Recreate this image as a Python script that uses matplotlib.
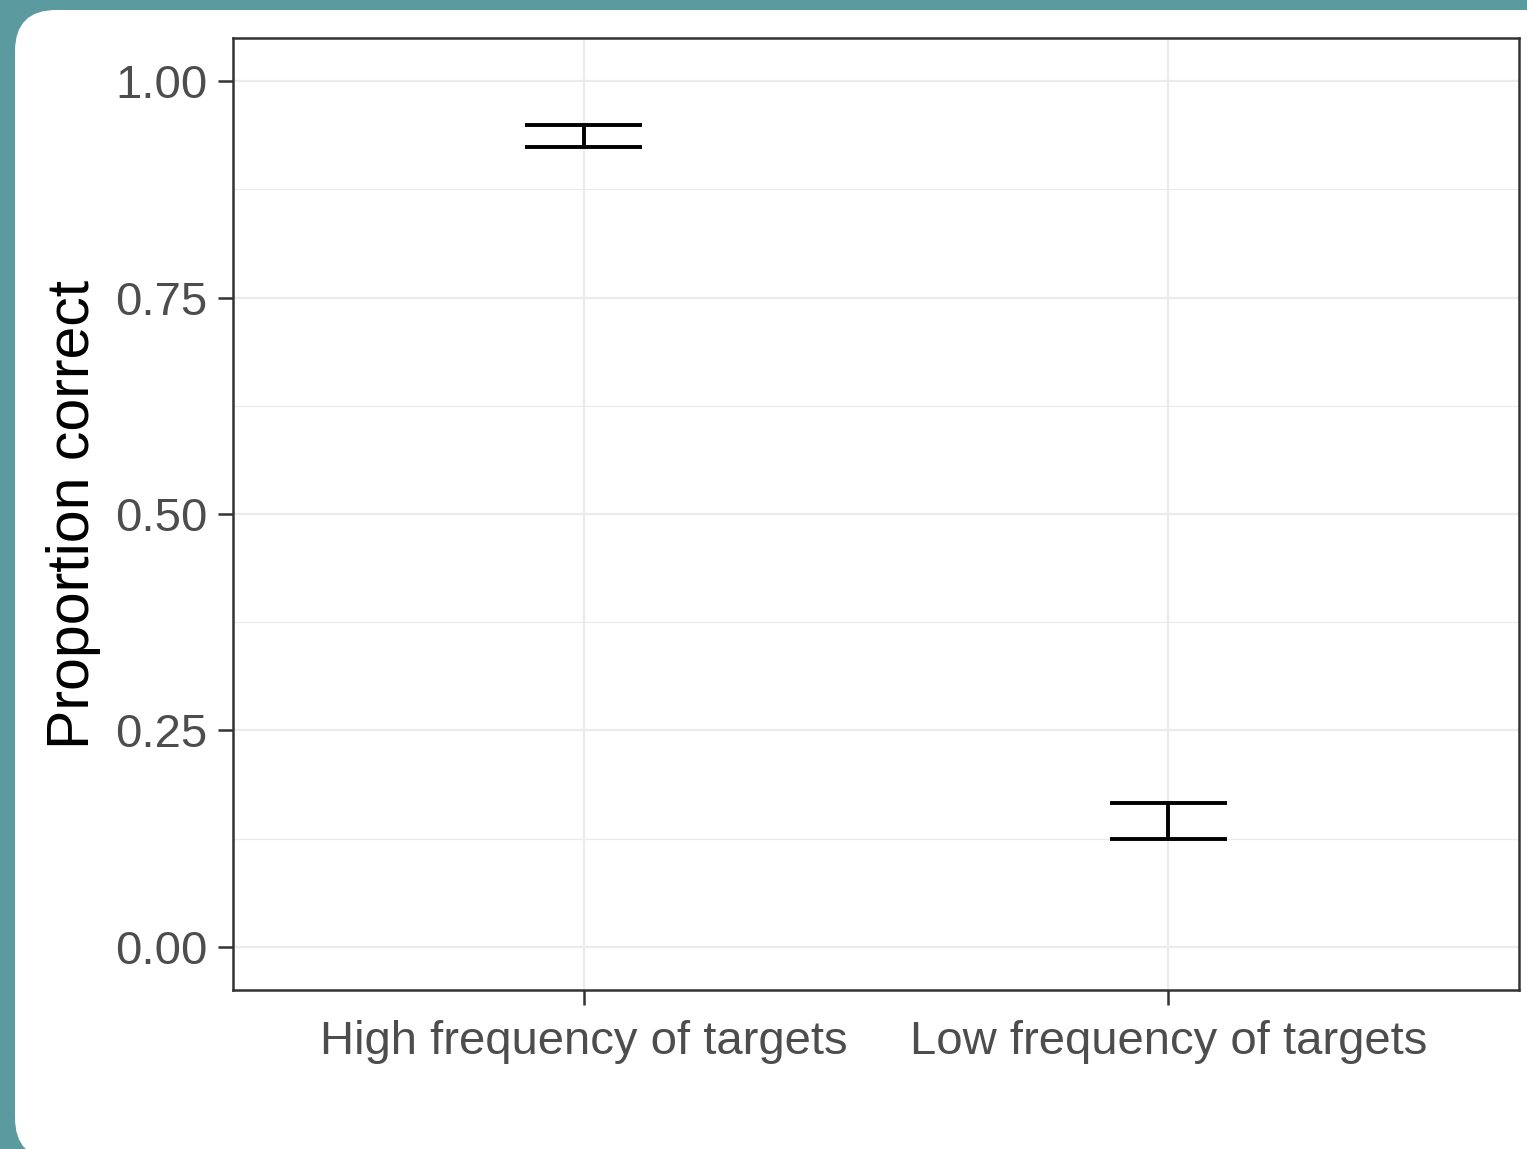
import matplotlib.pyplot as plt
from matplotlib.patches import FancyBboxPatch
import numpy as np

# data
conditions = ['High frequency of targets', 'Low frequency of targets']
ci_low = [0.924, 0.124]
ci_high = [0.950, 0.166]
y_ticks = [0.0, 0.25, 0.5, 0.75, 1.0]
y_tick_labels = ['0.00', '0.25', '0.50', '0.75', '1.00']

plt.rcParams['font.family'] = ['Liberation Sans', 'DejaVu Sans']

W, H = 1527, 1149
fig = plt.figure(figsize=(W / 100, H / 100), dpi=100)
fig.patch.set_facecolor('#5b9ba0')

# white rounded card behind the plot
card = FancyBboxPatch((15 / W, -10 / H), 1600 / W, (H - 10 + 10) / H,
                      boxstyle='round,pad=0,rounding_size=0.027',
                      transform=fig.transFigure, facecolor='white',
                      edgecolor='none', mutation_aspect=W / H, zorder=-5)
fig.patches.append(card)

left, right, top, bottom = 233, 1519, 38, 990
ax = fig.add_axes([left / W, (H - bottom) / H, (right - left) / W, (bottom - top) / H])
ax.set_zorder(1)
ax.set_facecolor('white')

x = np.arange(1, len(conditions) + 1)
cap = 0.1
for xi, lo, hi in zip(x, ci_low, ci_high):
    ax.plot([xi, xi], [lo, hi], color='black', lw=2.8, solid_capstyle='butt', zorder=3)
    ax.plot([xi - cap, xi + cap], [lo, lo], color='black', lw=2.8, solid_capstyle='butt', zorder=3)
    ax.plot([xi - cap, xi + cap], [hi, hi], color='black', lw=2.8, solid_capstyle='butt', zorder=3)

ax.set_xlim(0.4, 2.6)
ax.set_ylim(-0.05, 1.05)
ax.set_xticks(x)
ax.set_xticklabels(conditions)
ax.set_yticks(y_ticks)
ax.set_yticklabels(y_tick_labels)
ax.set_yticks([0.125, 0.375, 0.625, 0.875], minor=True)

ax.grid(True, which='major', color='#ebebeb', lw=1.6)
ax.grid(True, which='minor', axis='y', color='#ebebeb', lw=0.9)
ax.set_axisbelow(True)
ax.tick_params(axis='both', which='major', length=10.5, width=1.8, color='#333333',
               labelsize=34, labelcolor='#4d4d4d')
ax.tick_params(axis='y', pad=8)
ax.tick_params(axis='x', pad=11)
ax.tick_params(axis='y', which='minor', length=0)
for s in ax.spines.values():
    s.set_color('#333333')
    s.set_linewidth(1.8)

ax.set_ylabel('Proportion correct', fontsize=42.5, color='black', labelpad=10)

fig.savefig('out.png', dpi=100, facecolor=fig.get_facecolor())
